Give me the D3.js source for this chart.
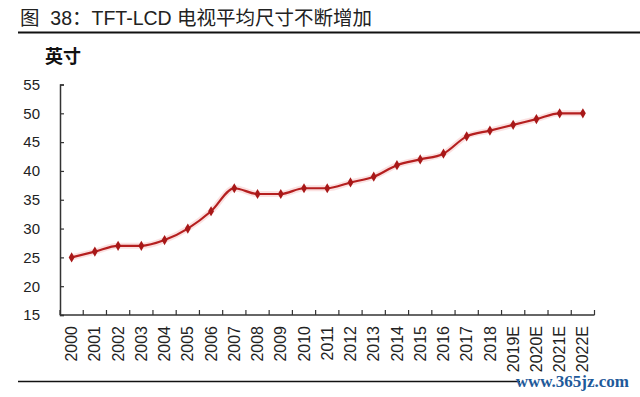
<!DOCTYPE html>
<html><head><meta charset="utf-8">
<script src="https://cdn.jsdelivr.net/npm/d3@7"></script>
<style>body{margin:0;background:#fff}svg{display:block}</style>
</head><body>
<svg id="c" width="640" height="397"></svg>
<script>
const years = ["2000","2001","2002","2003","2004","2005","2006","2007","2008","2009","2010","2011","2012","2013","2014","2015","2016","2017","2018","2019E","2020E","2021E","2022E"];
const sizes = [25,26,27,27,28,30,33,37,36,36,37,37,38,39,41,42,43,46,47,48,49,50,50];
const yTicks = [15,20,25,30,35,40,45,50,55];
const title = "图  38：TFT-LCD 电视平均尺寸不断增加";
const unit = "英寸";

const svg = d3.select("#c");
const font = "Liberation Sans, Arial, 'Noto Sans CJK SC', sans-serif";
const x = d3.scaleBand().domain(years).range([60, 594.5]).padding(0);
const y = d3.scaleLinear().domain([15, 55]).range([315, 84.5]);

// title
svg.append("text").attr("x", 20).attr("y", 25).attr("font-family", font)
  .style("white-space", "pre")
  .attr("font-size", 19.5).attr("fill", "#222").text(title);
svg.append("line").attr("x1", 18).attr("x2", 640).attr("y1", 32.5).attr("y2", 32.5)
  .attr("stroke", "#111").attr("stroke-width", 2);

svg.append("text").attr("x", 45).attr("y", 63).attr("font-family", font)
  .attr("font-size", 18).attr("font-weight", "bold").attr("fill", "#111").text(unit);

// y axis
const ya = svg.append("g").attr("transform", "translate(60,0)")
  .call(d3.axisLeft(y).tickValues(yTicks).tickSize(-4).tickPadding(20));
ya.select(".domain").attr("stroke", "#333").attr("stroke-width", 1.5);
ya.selectAll(".tick line").attr("stroke", "#333").attr("stroke-width", 1.2);
ya.selectAll("text").attr("font-family", font).attr("font-size", 15).attr("fill", "#222");

// x axis
const xa = svg.append("g").attr("transform", "translate(0,315)")
  .call(d3.axisBottom(x).tickSize(0).tickPadding(0));
xa.select(".domain").remove();
xa.selectAll(".tick text").attr("font-family", font).attr("font-size", 16).attr("fill", "#222")
  .attr("transform", "rotate(-90)").attr("text-anchor", "end").attr("dy", "0.35em")
  .attr("x", -11).attr("y", 0);
svg.append("line").attr("x1", 60).attr("x2", 594.5).attr("y1", 315).attr("y2", 315)
  .attr("stroke", "#333").attr("stroke-width", 1.5);
const bounds = years.map(d => x(d)).concat([x.range()[1]]);
svg.append("g").selectAll("line").data(bounds).join("line")
  .attr("x1", d => d).attr("x2", d => d).attr("y1", 315).attr("y2", 310)
  .attr("stroke", "#333").attr("stroke-width", 1.2);

// line
const cx = d => x(d) + x.bandwidth() / 2;
const line = d3.line().x((d, i) => cx(years[i])).y(d => y(d)).curve(d3.curveMonotoneX);
svg.append("path").datum(sizes).attr("d", line).attr("fill", "none")
  .attr("stroke", "#f7c4c4").attr("stroke-width", 6).attr("stroke-opacity", 0.5);
svg.append("path").datum(sizes).attr("d", line).attr("fill", "none")
  .attr("stroke", "#b51f1f").attr("stroke-width", 2.2);
svg.append("g").selectAll("path").data(sizes).join("path")
  .attr("d", d3.symbol().type(d3.symbolDiamond).size(30))
  .attr("transform", (d, i) => `translate(${cx(years[i])},${y(d)})`)
  .attr("fill", "#a81818");

// bottom rule + watermark
svg.append("line").attr("x1", 18).attr("x2", 520).attr("y1", 381.5).attr("y2", 381.5)
  .attr("stroke", "#111").attr("stroke-width", 1.5);
svg.append("text").attr("x", 629).attr("y", 387).attr("text-anchor", "end")
  .attr("font-family", "Liberation Serif, serif").attr("font-size", 17).attr("font-weight", "bold")
  .attr("fill", "#1f5a9a").text("www.365jz.com");
</script>
</body></html>
